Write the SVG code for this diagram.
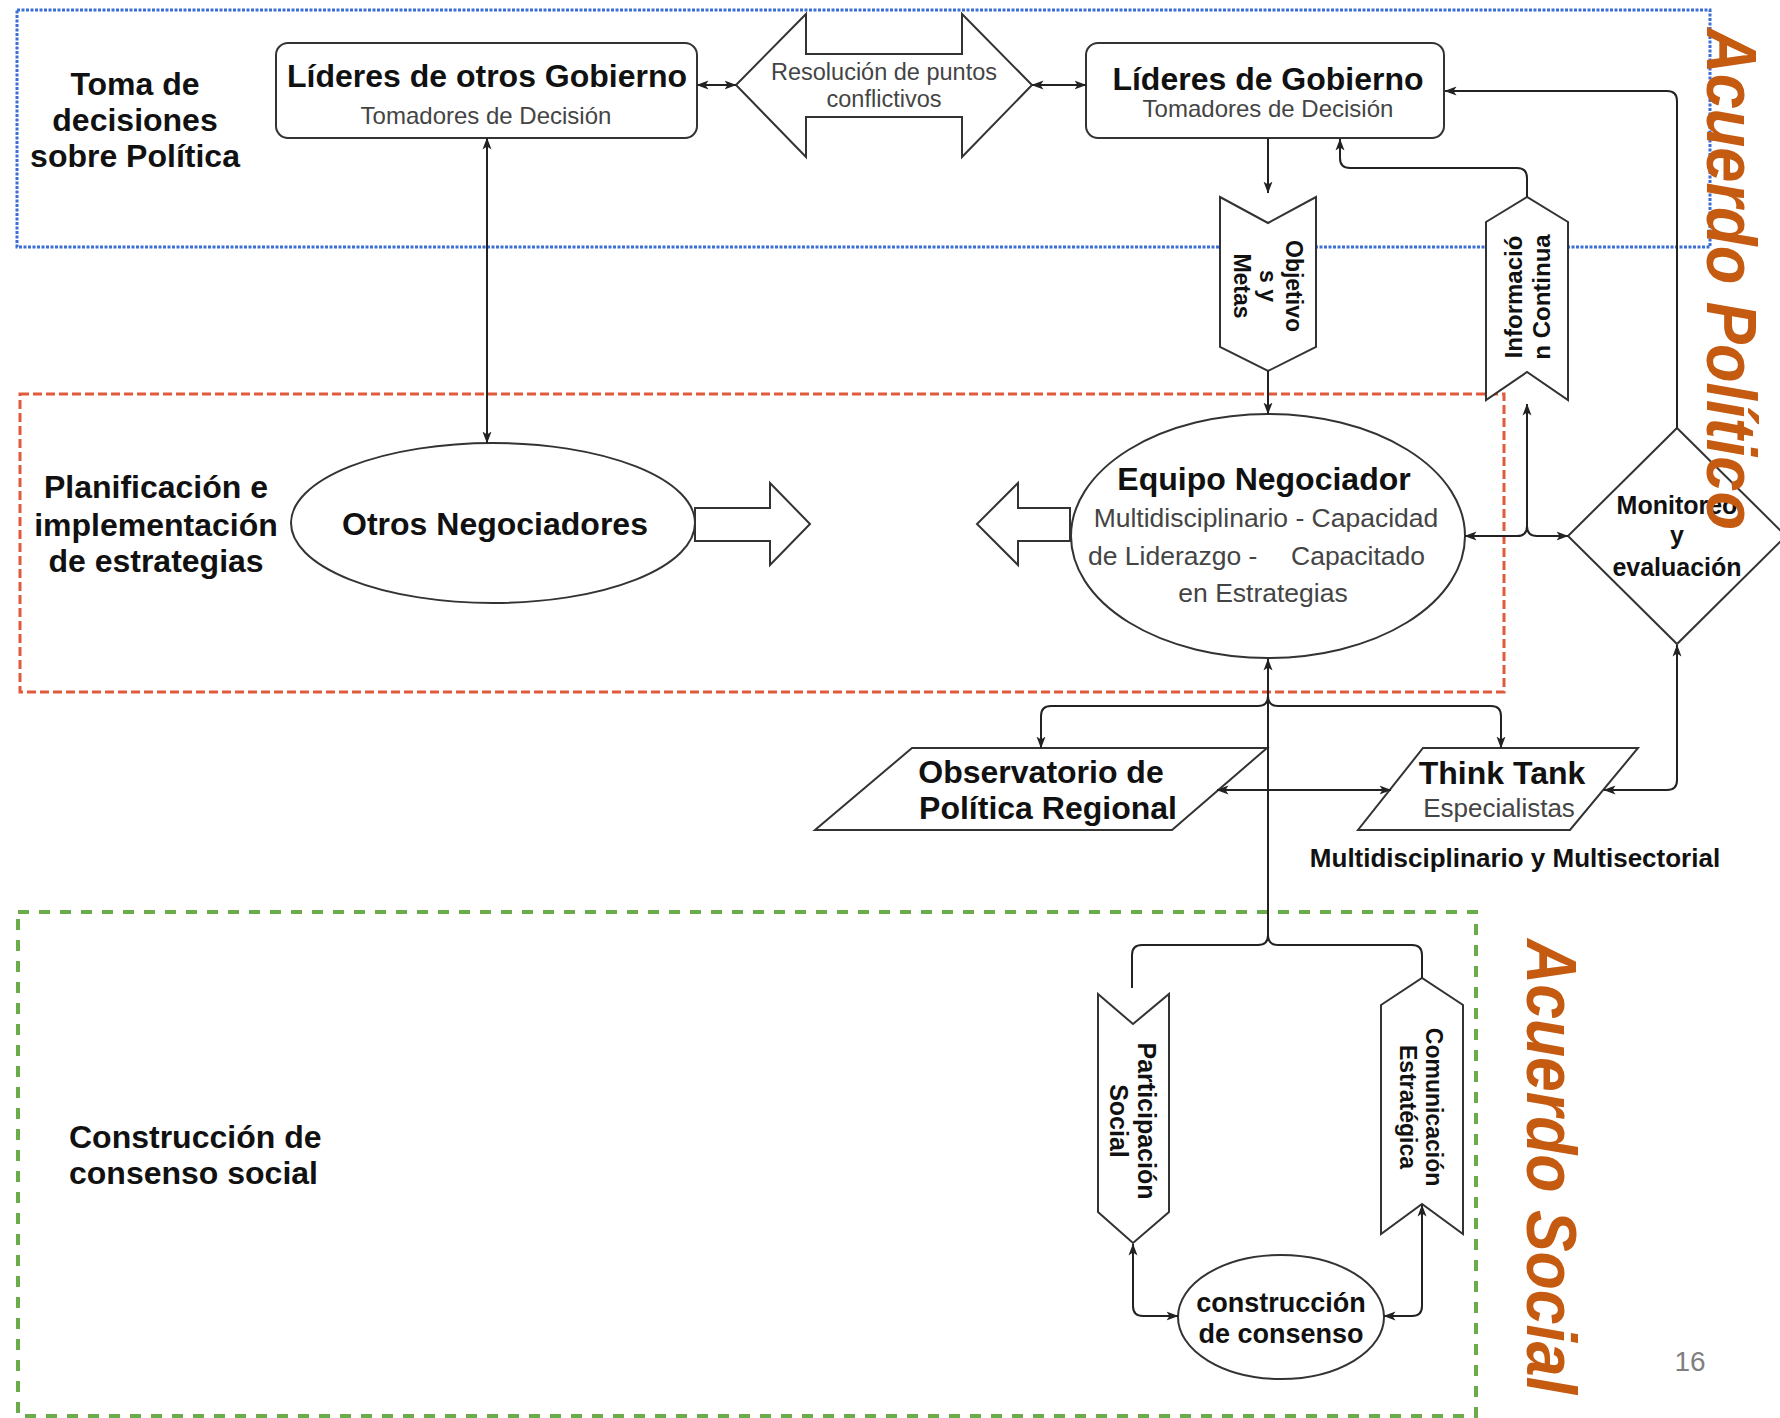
<svg xmlns="http://www.w3.org/2000/svg" width="1780" height="1418" viewBox="0 0 1780 1418">
<defs>
<marker id="ah" viewBox="0 0 12 10" refX="11.5" refY="5" markerWidth="12" markerHeight="10" markerUnits="userSpaceOnUse" orient="auto-start-reverse"><path d="M0,0.5 L12,5 L0,9.5 L3,5 z" fill="#222"/></marker>
<style>
.b{font-family:"Liberation Sans",Arial,sans-serif;font-weight:bold;fill:#111}
.r{font-family:"Liberation Sans",Arial,sans-serif;fill:#444}
.shape{fill:#fff;stroke:#333;stroke-width:2}
.conn{fill:none;stroke:#222;stroke-width:2}
.accent{font-family:"Liberation Sans",Arial,sans-serif;font-weight:bold;font-style:italic;fill:#c55a11}
.region{fill:none}
</style>
</defs>
<rect x="0" y="0" width="1780" height="1418" fill="#fff"/>

<g id="regions">
<rect class="region" x="17" y="10" width="1693" height="237" stroke="#3b6fd6" stroke-width="3" stroke-dasharray="3 1.5"/>
<rect class="region" x="20" y="394" width="1484" height="298" stroke="#e05a3c" stroke-width="3" stroke-dasharray="9 4"/>
<rect class="region" x="18" y="912" width="1458" height="504" stroke="#6aac4a" stroke-width="4" stroke-dasharray="11 10"/>
<text class="b" font-size="32" text-anchor="middle"><tspan x="135" y="95">Toma de</tspan><tspan x="135" y="131">decisiones</tspan><tspan x="135" y="167">sobre Política</tspan></text>
<text class="b" font-size="32" text-anchor="middle"><tspan x="156" y="498">Planificación e</tspan><tspan x="156" y="536">implementación</tspan><tspan x="156" y="572">de estrategias</tspan></text>
<text class="b" font-size="32"><tspan x="69" y="1148">Construcción de</tspan><tspan x="69" y="1184">consenso social</tspan></text>
</g>

<g id="lideres-otros">
<rect class="shape" x="276" y="43" width="421" height="95" rx="12"/>
<text class="b" font-size="32" x="487" y="87" text-anchor="middle">Líderes de otros Gobierno</text>
<text class="r" font-size="24" x="486" y="124" text-anchor="middle">Tomadores de Decisión</text>
</g>

<g id="resolucion">
<polygon class="shape" points="736,85 806,14 806,54 962,54 962,14 1032,85 962,157 962,117 806,117 806,157"/>
<text class="r" font-size="23.5" text-anchor="middle"><tspan x="884" y="80">Resolución de puntos</tspan><tspan x="884" y="107">conflictivos</tspan></text>
</g>

<g id="lideres-gobierno">
<rect class="shape" x="1086" y="43" width="358" height="95" rx="12"/>
<text class="b" font-size="32" x="1268" y="90" text-anchor="middle">Líderes de Gobierno</text>
<text class="r" font-size="24" x="1268" y="117" text-anchor="middle">Tomadores de Decisión</text>
</g>

<g id="objetivos">
<polygon class="shape" points="1220,197 1268,223 1316,197 1316,347 1268,371 1220,347"/>
<text class="b" font-size="23" text-anchor="middle" dominant-baseline="central" transform="translate(1268,286) rotate(90)"><tspan x="0" y="-26">Objetivo</tspan><tspan x="0" y="0">s y</tspan><tspan x="0" y="26">Metas</tspan></text>
</g>

<g id="informacion">
<polygon class="shape" points="1486,222 1527,197 1568,222 1568,400 1527,372 1486,400"/>
<text class="b" font-size="24" text-anchor="middle" dominant-baseline="central" transform="translate(1527,297) rotate(-90)"><tspan x="0" y="-14">Informació</tspan><tspan x="0" y="14">n Continua</tspan></text>
</g>

<g id="otros-negociadores">
<ellipse class="shape" cx="493" cy="523" rx="202" ry="80"/>
<text class="b" font-size="32" x="495" y="535" text-anchor="middle">Otros Negociadores</text>
</g>

<g id="flecha-derecha">
<polygon class="shape" points="695,508 770,508 770,483 810,524 770,565 770,541 695,541"/>
</g>

<g id="flecha-izquierda">
<polygon class="shape" points="1070,508 1018,508 1018,483 977,524 1018,565 1018,541 1070,541"/>
</g>

<g id="equipo-negociador">
<ellipse class="shape" cx="1268" cy="536" rx="197" ry="122"/>
<text class="b" font-size="32" x="1264" y="490" text-anchor="middle">Equipo Negociador</text>
<text class="r" font-size="26.5" x="1266" y="527" text-anchor="middle">Multidisciplinario - Capacidad</text>
<text class="r" font-size="26.5" y="565"><tspan x="1088">de Liderazgo -</tspan><tspan x="1291">Capacitado</tspan></text>
<text class="r" font-size="26.5" x="1263" y="602" text-anchor="middle">en Estrategias</text>
</g>

<g id="monitoreo">
<polygon class="shape" points="1677,428 1786,536 1677,644 1568,536"/>
<text class="b" font-size="25" text-anchor="middle"><tspan x="1677" y="514">Monitoreo</tspan><tspan x="1677" y="544">y</tspan><tspan x="1677" y="576">evaluación</tspan></text>
</g>

<g id="observatorio">
<polygon class="shape" points="912,748 1267,748 1172,830 815,830"/>
<text class="b" font-size="32" text-anchor="middle"><tspan x="1041" y="783">Observatorio de</tspan><tspan x="1048" y="819">Política Regional</tspan></text>
</g>

<g id="think-tank">
<polygon class="shape" points="1423,748 1638,748 1570,830 1358,830"/>
<text class="b" font-size="32" x="1502" y="784" text-anchor="middle">Think Tank</text>
<text class="r" font-size="26" x="1499" y="817" text-anchor="middle">Especialistas</text>
</g>

<g id="multisectorial">
<text class="b" font-size="26" x="1515" y="867" text-anchor="middle">Multidisciplinario y Multisectorial</text>
</g>

<g id="participacion">
<polygon class="shape" points="1098,994 1133,1024 1169,994 1169,1212 1133,1243 1098,1212"/>
<text class="b" font-size="25" text-anchor="middle" dominant-baseline="central" transform="translate(1133,1121) rotate(90)"><tspan x="0" y="-14">Participación</tspan><tspan x="0" y="14">Social</tspan></text>
</g>

<g id="comunicacion">
<polygon class="shape" points="1381,1005 1422,978 1463,1005 1463,1234 1422,1204 1381,1234"/>
<text class="b" font-size="23" text-anchor="middle" dominant-baseline="central" transform="translate(1421,1107) rotate(90)"><tspan x="0" y="-13">Comunicación</tspan><tspan x="0" y="13">Estratégica</tspan></text>
</g>

<g id="consenso">
<ellipse class="shape" cx="1281" cy="1317" rx="103" ry="62"/>
<text class="b" font-size="27" text-anchor="middle"><tspan x="1281" y="1312">construcción</tspan><tspan x="1281" y="1343">de consenso</tspan></text>
</g>

<g id="connectors">
<path class="conn" d="M697,85 L736,85" marker-start="url(#ah)" marker-end="url(#ah)"/>
<path class="conn" d="M1032,85 L1086,85" marker-start="url(#ah)" marker-end="url(#ah)"/>
<path class="conn" d="M487,138 L487,443" marker-start="url(#ah)" marker-end="url(#ah)"/>
<path class="conn" d="M1268,138 L1268,193" marker-end="url(#ah)"/>
<path class="conn" d="M1268,371 L1268,414" marker-end="url(#ah)"/>
<path class="conn" d="M1527,197 L1527,178 Q1527,168 1517,168 L1350,168 Q1340,168 1340,158 L1340,139" marker-end="url(#ah)"/>
<path class="conn" d="M1677,428 L1677,101 Q1677,91 1667,91 L1445,91" marker-end="url(#ah)"/>
<path class="conn" d="M1465,536 L1517,536 Q1527,536 1527,526 L1527,404" marker-start="url(#ah)" marker-end="url(#ah)"/>
<path class="conn" d="M1527,526 Q1527,536 1537,536 L1568,536" marker-end="url(#ah)"/>
<path class="conn" d="M1268,935 L1268,659" marker-end="url(#ah)"/>
<path class="conn" d="M1268,696 Q1268,706 1258,706 L1051,706 Q1041,706 1041,716 L1041,748" marker-end="url(#ah)"/>
<path class="conn" d="M1268,696 Q1268,706 1278,706 L1491,706 Q1501,706 1501,716 L1501,748" marker-end="url(#ah)"/>
<path class="conn" d="M1217,790 L1391,790" marker-start="url(#ah)" marker-end="url(#ah)"/>
<path class="conn" d="M1604,790 L1667,790 Q1677,790 1677,780 L1677,645" marker-start="url(#ah)" marker-end="url(#ah)"/>
<path class="conn" d="M1268,935 Q1268,945 1258,945 L1142,945 Q1132,945 1132,955 L1132,988"/>
<path class="conn" d="M1268,935 Q1268,945 1278,945 L1412,945 Q1422,945 1422,955 L1422,978"/>
<path class="conn" d="M1133,1244 L1133,1306 Q1133,1316 1143,1316 L1178,1316" marker-start="url(#ah)" marker-end="url(#ah)"/>
<path class="conn" d="M1422,1205 L1422,1306 Q1422,1316 1412,1316 L1384,1316" marker-start="url(#ah)" marker-end="url(#ah)"/>
</g>

<g id="acuerdos">
<text class="accent" font-size="70" textLength="502" lengthAdjust="spacingAndGlyphs" transform="translate(1707,28) rotate(90)">Acuerdo Político</text>
<text class="accent" font-size="70" textLength="455" lengthAdjust="spacingAndGlyphs" transform="translate(1527,939) rotate(90)">Acuerdo Social</text>
<text x="1690" y="1371" font-family="'Liberation Sans',Arial,sans-serif" font-size="28" fill="#7f7f7f" text-anchor="middle">16</text>
</g>
</svg>
